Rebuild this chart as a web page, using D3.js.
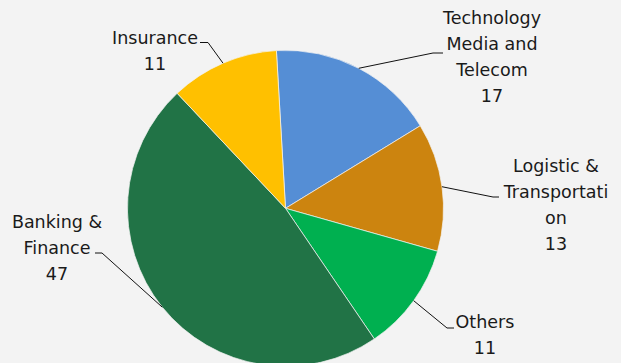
<!DOCTYPE html>
<html>
<head>
<meta charset="utf-8">
<script src="https://cdn.jsdelivr.net/npm/d3@7"></script>
<style>
  html, body { margin: 0; padding: 0; background: #f3f3f3; }
  svg { display: block; }
  text { font-family: "DejaVu Sans", sans-serif; font-size: 17.5px; fill: #1a1a1a; }
</style>
</head>
<body>
<svg id="chart" width="621" height="363"></svg>
<script>
// Sector shares (clockwise from the top)
const categories = ["Technology Media and Telecom", "Logistic & Transportation", "Others", "Banking & Finance", "Insurance"];
const values = [17, 13, 11, 47, 11];
const colors = ["#558ed5", "#cc840f", "#00b050", "#217346", "#ffc000"];
// Label text, broken into lines as displayed
const labelLines = [
  ["Technology", "Media and", "Telecom"],
  ["Logistic &", "Transportati", "on"],
  ["Others"],
  ["Banking &", "Finance"],
  ["Insurance"]
];

const W = 621, H = 363;
const cx = 285.5, cy = 208.3, R = 158;
const startOffset = -3.3 * Math.PI / 180;

const svg = d3.select("#chart");
const g = svg.append("g").attr("transform", `translate(${cx},${cy})`);

const data = categories.map((c, i) => ({ name: c, value: values[i], color: colors[i], lines: labelLines[i] }));

const pie = d3.pie().value(d => d.value).sort(null)
  .startAngle(startOffset).endAngle(startOffset + 2 * Math.PI);
const arc = d3.arc().innerRadius(0).outerRadius(R);
const arcs = pie(data);

g.selectAll("path.slice").data(arcs).enter().append("path")
  .attr("class", "slice")
  .attr("d", arc)
  .attr("fill", d => d.data.color)
  .attr("stroke", "#f3f3f3")
  .attr("stroke-width", 0.7);

// Label block: x centre, first baseline, and the two points of the leader's elbow
const layout = {
  "Technology Media and Telecom": { x: 492, y: 24, elbow: [[443, 53], [433, 53]] },
  "Logistic & Transportation": { x: 556, y: 172, elbow: [[499, 197], [493, 197]] },
  "Others": { x: 485, y: 328, elbow: [[454, 328], [447, 328]] },
  "Banking & Finance": { x: 57, y: 228, elbow: [[95, 253], [102, 253]] },
  "Insurance": { x: 155, y: 44, elbow: [[200, 42.5], [208, 42.5]] }
};
const lineH = 26;

arcs.forEach(a => {
  const L = layout[a.data.name];
  // leader meets the rim at the slice's mid angle
  const mid = (a.startAngle + a.endAngle) / 2;
  const px = cx + R * Math.sin(mid), py = cy - R * Math.cos(mid);
  svg.append("path")
    .attr("d", d3.line()([L.elbow[0], L.elbow[1], [px, py]]))
    .attr("fill", "none")
    .attr("stroke", "#111")
    .attr("stroke-width", 1);

  const t = svg.append("text").attr("text-anchor", "middle");
  const lines = a.data.lines.concat([String(a.data.value)]);
  lines.forEach((s, i) => {
    t.append("tspan").attr("x", L.x).attr("y", L.y + i * lineH).text(s);
  });
});
</script>
</body>
</html>
